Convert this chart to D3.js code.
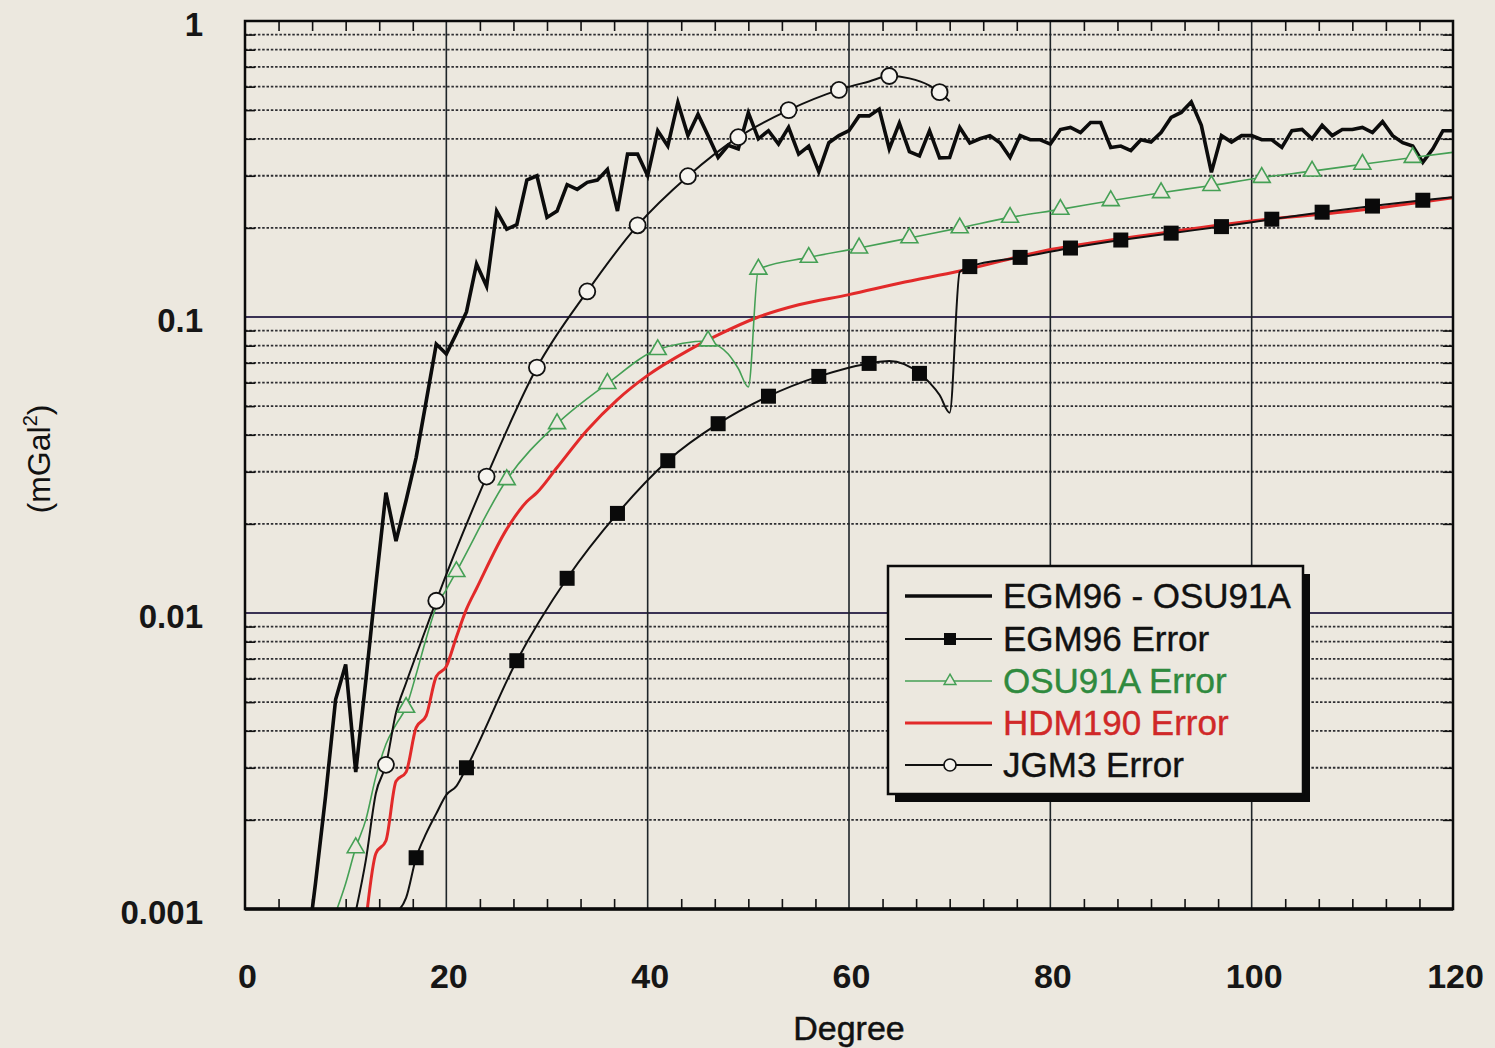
<!DOCTYPE html>
<html>
<head>
<meta charset="utf-8">
<script src="https://cdn.jsdelivr.net/npm/d3@7"></script>
<style>
  html, body { margin: 0; padding: 0; background: #ece8df; }
  svg { display: block; }
</style>
</head>
<body>
<svg id="chart" width="1495" height="1048"></svg>
<script>
// ---------------- DATA ----------------
const xTickLabels = [0, 20, 40, 60, 80, 100, 120];
const yTickValues = [0.001, 0.01, 0.1, 1];
const yTickLabels = ["0.001", "0.01", "0.1", "1"];

// EGM96 - OSU91A : one value per degree, starting at degree 6
const diffStartDegree = 6;
const diffValues = [
  0.00065, 0.00122, 0.0024, 0.0051, 0.0067, 0.0029, 0.0059, 0.0125, 0.0255, 0.0175,
  0.024, 0.0335, 0.052, 0.081, 0.075, 0.088, 0.104, 0.151, 0.127, 0.228,
  0.198, 0.205, 0.29, 0.30, 0.217, 0.228, 0.28, 0.27, 0.285, 0.29,
  0.315, 0.228, 0.355, 0.355, 0.30, 0.426, 0.378, 0.531, 0.41, 0.484,
  0.41, 0.346, 0.38, 0.37, 0.49, 0.40, 0.426, 0.384, 0.437, 0.355,
  0.378, 0.31, 0.388, 0.41, 0.426, 0.478, 0.478, 0.504, 0.37, 0.452,
  0.362, 0.35, 0.426, 0.345, 0.346, 0.437, 0.387, 0.40, 0.41, 0.388,
  0.346, 0.41, 0.397, 0.397, 0.384, 0.43, 0.437, 0.42, 0.454, 0.454,
  0.374, 0.378, 0.365, 0.397, 0.39, 0.42, 0.472, 0.491, 0.533, 0.444,
  0.308, 0.41, 0.39, 0.41, 0.41, 0.397, 0.397, 0.374, 0.426, 0.43,
  0.40, 0.444, 0.41, 0.43, 0.43, 0.437, 0.42, 0.457, 0.41, 0.388,
  0.378, 0.333, 0.37, 0.426, 0.426
];

// EGM96 Error (markers every 5th degree: 17, 22, ...)
const egmErrDeg = [15, 16, 17, 18, 19, 20, 21, 22, 27, 32, 37, 42, 47, 52, 57, 62, 64, 67, 68, 69, 70, 71, 72, 77, 82, 87, 92, 97, 102, 107, 112, 117, 120];
const egmErrVal = [0.00097, 0.00109, 0.00149, 0.0018, 0.0021, 0.00243, 0.0026, 0.0030, 0.0069, 0.0131, 0.0217, 0.0327, 0.0436, 0.054, 0.063, 0.0697, 0.071, 0.0645, 0.06, 0.0545, 0.0475, 0.142, 0.148, 0.159, 0.171, 0.182, 0.192, 0.202, 0.214, 0.226, 0.237, 0.248, 0.254];
const egmMarkerDeg = [17, 22, 27, 32, 37, 42, 47, 52, 57, 62, 67, 72, 77, 82, 87, 92, 97, 102, 107, 112, 117];

// OSU91A Error (markers at 11, 16, ...)
const osuErrDeg = [9, 10, 11, 12, 13, 14, 15, 16, 17, 18, 19, 20, 21, 26, 31, 36, 41, 46, 47, 48, 49, 50, 51, 56, 61, 66, 71, 76, 81, 86, 91, 96, 101, 106, 111, 116, 120];
const osuErrVal = [0.00097, 0.00122, 0.00161, 0.0020, 0.0028, 0.0036, 0.0042, 0.0048, 0.0062, 0.0082, 0.0105, 0.012, 0.0138, 0.0282, 0.0436, 0.0596, 0.0776, 0.083, 0.08, 0.075, 0.067, 0.058, 0.145, 0.159, 0.171, 0.185, 0.2, 0.217, 0.231, 0.247, 0.263, 0.278, 0.296, 0.311, 0.328, 0.346, 0.36];
const osuMarkerDeg = [11, 16, 21, 26, 31, 36, 41, 46, 51, 56, 61, 66, 71, 76, 81, 86, 91, 96, 101, 106, 111, 116];

// HDM190 Error
const hdmDeg = [12, 13, 14, 15, 16, 17, 18, 19, 20, 21, 22, 23, 26, 28, 29, 31, 34, 37, 40, 44, 47, 51, 55, 60, 65, 71, 80, 90, 100, 110, 120];
const hdmVal = [0.0009, 0.00154, 0.0017, 0.0027, 0.0029, 0.0041, 0.0045, 0.0061, 0.0066, 0.0083, 0.0103, 0.0121, 0.0192, 0.0238, 0.0255, 0.031, 0.0415, 0.0526, 0.0635, 0.077, 0.087, 0.1, 0.11, 0.119, 0.13, 0.143, 0.169, 0.19, 0.211, 0.228, 0.253];

// JGM3 Error (markers at 14, 19, ...)
const jgmDeg = [11, 12, 13, 14, 15, 16, 17, 18, 19, 24, 29, 34, 39, 44, 49, 54, 59, 62, 64, 66, 68, 69, 70];
const jgmVal = [0.00098, 0.00146, 0.00246, 0.00307, 0.0046, 0.0058, 0.0072, 0.0089, 0.011, 0.0289, 0.0675, 0.122, 0.204, 0.299, 0.405, 0.5, 0.585, 0.625, 0.652, 0.64, 0.605, 0.575, 0.535];
const jgmMarkerDeg = [14, 19, 24, 29, 34, 39, 44, 49, 54, 59, 64, 69];

const legendLabels = ["EGM96 - OSU91A", "EGM96 Error", "OSU91A Error", "HDM190 Error", "JGM3 Error"];

// ---------------- STYLE ----------------
const paper = "#ece8df";
const green = "#45a055";
const greenText = "#2f8a3e";
const red = "#e22a2a";
const font = "'Liberation Sans', Arial, Helvetica, sans-serif";

const L = 245, R = 1453, T = 21, B = 909;

const svg = d3.select("#chart");
svg.append("rect").attr("width", 1495).attr("height", 1048).attr("fill", paper);

const x = d3.scaleLinear().domain([0, 120]).range([L, R]);
const y = d3.scaleLog().domain([0.001, 1]).range([B, T]);

svg.append("defs").append("clipPath").attr("id", "plotclip")
  .append("rect").attr("x", L).attr("y", T).attr("width", R - L).attr("height", B - T);

// ---------------- GRID ----------------
const decades = [0.001, 0.01, 0.1];
const minorY = [];
decades.forEach(d => { for (let k = 2; k <= 9; k++) minorY.push(d * k); });
const majorY = [0.01, 0.1];
const minorX = d3.range(0, 36).map(i => i * 20 / 6).filter((v, i) => i % 6 !== 0);
const majorX = [20, 40, 60, 80, 100];

const grid = svg.append("g");
grid.selectAll(".minY").data(minorY).join("line")
  .attr("x1", L).attr("x2", R)
  .attr("y1", d => y(d)).attr("y2", d => y(d))
  .attr("stroke", "#2e2e32").attr("stroke-width", 1.8)
  .attr("stroke-dasharray", "2.5,1.8");
grid.selectAll(".majY").data(majorY).join("line")
  .attr("x1", L).attr("x2", R)
  .attr("y1", d => y(d)).attr("y2", d => y(d))
  .attr("stroke", "#3a3254").attr("stroke-width", 2.2);
grid.selectAll(".majX").data(majorX).join("line")
  .attr("y1", T).attr("y2", B)
  .attr("x1", d => x(d)).attr("x2", d => x(d))
  .attr("stroke", "#1e2428").attr("stroke-width", 1.6);

// inward ticks
function styleAxis(g) {
  g.select(".domain").remove();
  g.selectAll(".tick line").attr("stroke", "#111").attr("stroke-width", 1.6);
}
svg.append("g").attr("transform", `translate(0,${B})`)
  .call(d3.axisBottom(x).tickValues(minorX).tickSize(-10).tickFormat(""))
  .call(styleAxis);
svg.append("g").attr("transform", `translate(0,${T})`)
  .call(d3.axisTop(x).tickValues(minorX).tickSize(-10).tickFormat(""))
  .call(styleAxis);
svg.append("g").attr("transform", `translate(${L},0)`)
  .call(d3.axisLeft(y).tickValues(minorY).tickSize(-10).tickFormat(""))
  .call(styleAxis);
svg.append("g").attr("transform", `translate(${R},0)`)
  .call(d3.axisRight(y).tickValues(minorY).tickSize(-10).tickFormat(""))
  .call(styleAxis);

// tick labels
const xAxisG = svg.append("g").attr("transform", `translate(0,${B})`)
  .call(d3.axisBottom(x).tickValues(xTickLabels).tickSize(0).tickPadding(0).tickFormat(d => String(d)));
xAxisG.select(".domain").remove();
xAxisG.selectAll("text")
  .attr("font-family", font).attr("font-size", 34).attr("font-weight", "bold")
  .attr("fill", "#161616").attr("dy", null).attr("y", 79).attr("x", 2);

const yAxisG = svg.append("g").attr("transform", `translate(${L},0)`)
  .call(d3.axisLeft(y).tickValues(yTickValues).tickSize(0).tickPadding(0)
    .tickFormat((d, i) => yTickLabels[i]));
yAxisG.select(".domain").remove();
yAxisG.selectAll("text")
  .attr("font-family", font).attr("font-size", 33).attr("font-weight", "bold")
  .attr("fill", "#161616").attr("x", -42).attr("dy", "0.45em");

// ---------------- SERIES ----------------
const plot = svg.append("g").attr("clip-path", "url(#plotclip)");

const diffData = diffValues.map((v, i) => ({ d: diffStartDegree + i, v }));
const egmData = egmErrDeg.map((d, i) => ({ d, v: egmErrVal[i] }));
const osuData = osuErrDeg.map((d, i) => ({ d, v: osuErrVal[i] }));
const hdmData = hdmDeg.map((d, i) => ({ d, v: hdmVal[i] }));
const jgmData = jgmDeg.map((d, i) => ({ d, v: jgmVal[i] }));

const lineLin = d3.line().x(p => x(p.d)).y(p => y(p.v));
const lineSmooth = d3.line().x(p => x(p.d)).y(p => y(p.v)).curve(d3.curveMonotoneX);

plot.append("path").datum(diffData).attr("d", lineLin)
  .attr("fill", "none").attr("stroke", "#0c0c0c").attr("stroke-width", 3.6)
  .attr("stroke-linejoin", "miter");

plot.append("path").datum(hdmData).attr("d", lineSmooth)
  .attr("fill", "none").attr("stroke", red).attr("stroke-width", 3);

plot.append("path").datum(osuData).attr("d", lineSmooth)
  .attr("fill", "none").attr("stroke", green).attr("stroke-width", 1.6);

plot.append("path").datum(jgmData).attr("d", lineSmooth)
  .attr("fill", "none").attr("stroke", "#111").attr("stroke-width", 2);

plot.append("path").datum(egmData).attr("d", lineSmooth)
  .attr("fill", "none").attr("stroke", "#111").attr("stroke-width", 2);

// markers
const tri = d3.symbol().type(d3.symbolTriangle).size(125);
plot.selectAll(".osuM").data(osuData.filter(p => osuMarkerDeg.includes(p.d))).join("path")
  .attr("d", tri)
  .attr("transform", p => `translate(${x(p.d)},${y(p.v)})`)
  .attr("fill", paper).attr("stroke", green).attr("stroke-width", 1.6);

plot.selectAll(".jgmM").data(jgmData.filter(p => jgmMarkerDeg.includes(p.d))).join("circle")
  .attr("cx", p => x(p.d)).attr("cy", p => y(p.v)).attr("r", 8)
  .attr("fill", "#f6f4ef").attr("stroke", "#111").attr("stroke-width", 1.8);

plot.selectAll(".egmM").data(egmData.filter(p => egmMarkerDeg.includes(p.d))).join("rect")
  .attr("x", p => x(p.d) - 7.5).attr("y", p => y(p.v) - 7.5)
  .attr("width", 15).attr("height", 15).attr("fill", "#0a0a0a");

// frame
svg.append("rect").attr("x", L).attr("y", T).attr("width", R - L).attr("height", B - T)
  .attr("fill", "none").attr("stroke", "#0a0a0a").attr("stroke-width", 2.5);
svg.append("line").attr("x1", L).attr("x2", R).attr("y1", B).attr("y2", B)
  .attr("stroke", "#0a0a0a").attr("stroke-width", 3.5);

// axis titles
svg.append("text").attr("x", (L + R) / 2).attr("y", 1040)
  .attr("text-anchor", "middle").attr("font-family", font).attr("font-size", 34)
  .attr("fill", "#111").attr("stroke", "#111").attr("stroke-width", 0.5).text("Degree");

const yt = svg.append("text")
  .attr("transform", `translate(50,${(T + B) / 2 - 6}) rotate(-90)`)
  .attr("text-anchor", "middle").attr("font-family", font).attr("font-size", 32)
  .attr("fill", "#111");
yt.append("tspan").text("(mGal");
yt.append("tspan").attr("font-size", 20).attr("dy", -13).text("2");
yt.append("tspan").attr("dy", 13).text(")");

// ---------------- LEGEND ----------------
const lg = svg.append("g");
const lx = 888, ly = 566, lw = 415, lh = 228;
lg.append("rect").attr("x", lx + 7).attr("y", ly + 8).attr("width", lw).attr("height", lh).attr("fill", "#0a0a0a");
lg.append("rect").attr("x", lx).attr("y", ly).attr("width", lw).attr("height", lh)
  .attr("fill", paper).attr("stroke", "#0a0a0a").attr("stroke-width", 2.5);

const rowY = [596, 639, 681, 723, 765];
const legendStyles = [
  { stroke: "#0c0c0c", w: 3.6, text: "#111", marker: null },
  { stroke: "#111", w: 1.8, text: "#111", marker: "square" },
  { stroke: green, w: 1.6, text: greenText, marker: "triangle" },
  { stroke: red, w: 3, text: "#d02828", marker: null },
  { stroke: "#111", w: 1.8, text: "#111", marker: "circle" }
];
legendLabels.forEach((lab, i) => {
  const s = legendStyles[i];
  const cy = rowY[i];
  lg.append("line").attr("x1", 905).attr("x2", 992).attr("y1", cy).attr("y2", cy)
    .attr("stroke", s.stroke).attr("stroke-width", s.w);
  if (s.marker === "square") {
    lg.append("rect").attr("x", 950 - 6).attr("y", cy - 6).attr("width", 12).attr("height", 12).attr("fill", "#0a0a0a");
  } else if (s.marker === "triangle") {
    lg.append("path").attr("d", d3.symbol().type(d3.symbolTriangle).size(60))
      .attr("transform", `translate(950,${cy})`)
      .attr("fill", paper).attr("stroke", green).attr("stroke-width", 1.5);
  } else if (s.marker === "circle") {
    lg.append("circle").attr("cx", 950).attr("cy", cy).attr("r", 6)
      .attr("fill", "#f6f4ef").attr("stroke", "#111").attr("stroke-width", 1.6);
  }
  lg.append("text").attr("x", 1003).attr("y", cy + 12)
    .attr("font-family", font).attr("font-size", 35).attr("fill", s.text)
    .attr("stroke", s.text).attr("stroke-width", 0.4).text(lab);
});
</script>
</body>
</html>
